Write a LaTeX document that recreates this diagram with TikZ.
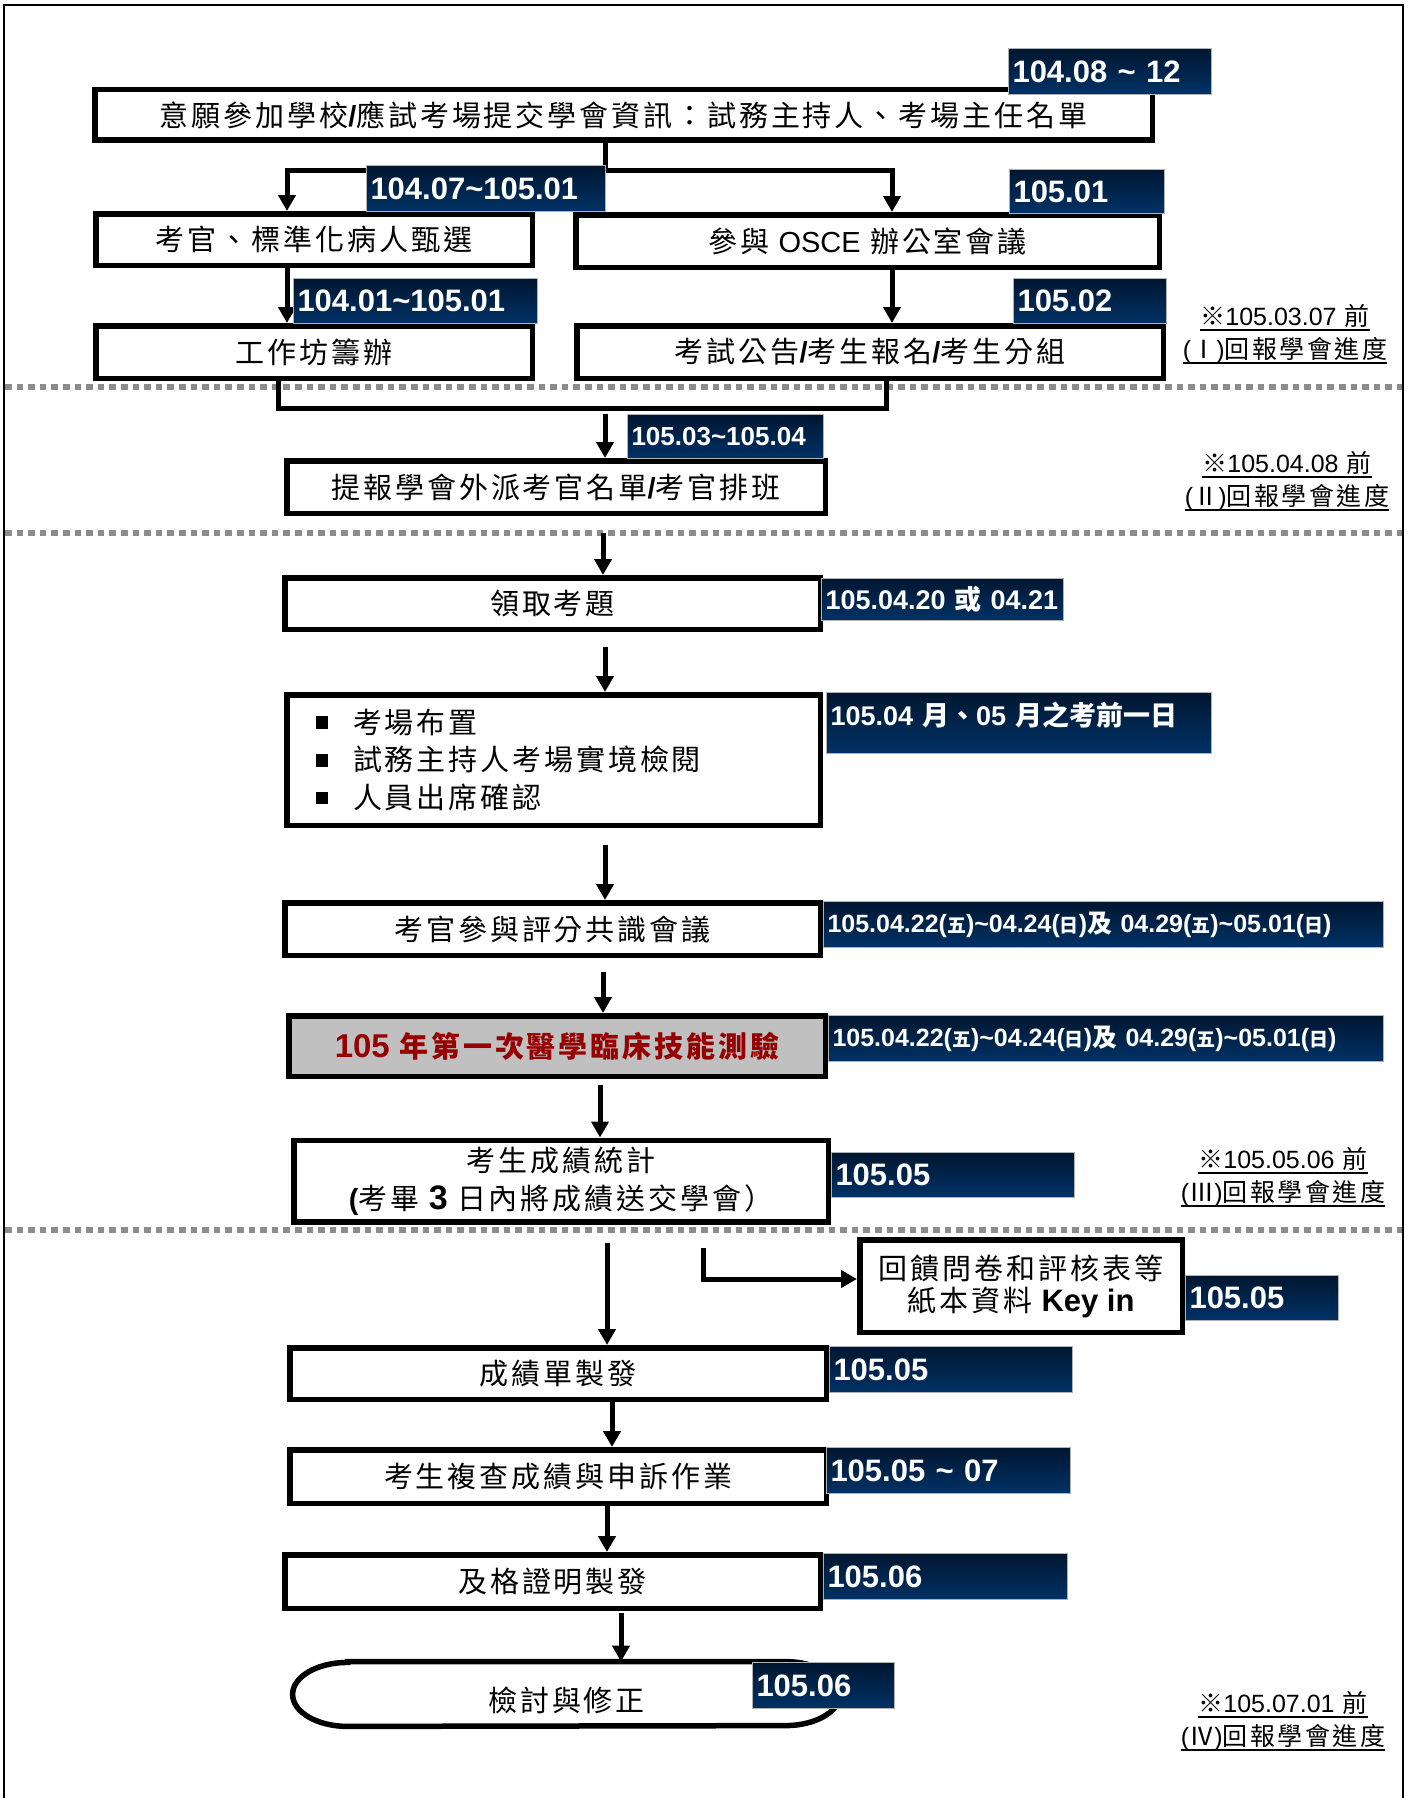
\documentclass[tikz,border=0pt]{standalone}
\usepackage{fontspec}
\setmainfont{Noto Sans CJK TC}
\newfontfamily\cjkfont{Noto Sans CJK TC}
\newfontfamily\spacedfont[LetterSpace=10]{Noto Sans CJK TC}
\newfontfamily\arialfont{Liberation Sans}
\usetikzlibrary{arrows.meta,positioning,calc}

\definecolor{navytop}{RGB}{0,22,48}
\definecolor{navybot}{RGB}{0,50,102}
\definecolor{examred}{RGB}{150,0,0}
\definecolor{boxgray}{RGB}{192,192,192}
\definecolor{sepgray}{RGB}{140,140,140}

\newcommand\lat[1]{{\arialfont #1}}
\newcommand\cj[1]{{\cjkfont #1}}
\newcommand\smcj[1]{{\cjkfont\fontsize{9.5}{10}\selectfont #1}}
\newcommand\bul{\rule[2.2pt]{6pt}{6.3pt}\hspace{12.5pt}}
\newcommand\undl[1]{\setbox0\hbox{#1}\rlap{\rule[-3pt]{\wd0}{0.9pt}}\box0}

\begin{document}
\begin{tikzpicture}[x=0.5pt,y=-0.5pt,>={Triangle[length=8pt,width=8.5pt]},
  stepbox/.style={draw,line width=2.75pt,fill=white,inner sep=0pt,align=center,
    font=\spacedfont\fontsize{14.5}{19}\selectfont},
  datebox/.style={anchor=north west,top color=navytop,bottom color=navybot,
    draw=gray!60,line width=0.5pt,text=white,inner xsep=2pt,inner ysep=0pt,
    align=left,font=\arialfont\bfseries\fontsize{15.5}{18}\selectfont},
  flow/.style={line width=2.5pt},
  sepline/.style={sepgray,line width=3pt,dash pattern=on 3.3pt off 2.5pt},
  note/.style={align=center,font=\spacedfont\fontsize{12.5}{16.5}\selectfont}]
  \useasboundingbox (0,0) rectangle (1408,1798);
  \draw[line width=1.2pt] (4,1798) -- (4,5) -- (1403,5) -- (1403,1798);

  % separators between the reporting stages
  \draw[sepline] (5,387) -- (1402,387);
  \draw[sepline] (5,533) -- (1402,533);
  \draw[sepline] (5,1230) -- (1402,1230);

  % steps
  \node[stepbox,minimum width=528.75pt,minimum height=25.25pt] (b_1) at (623.5,115)
    {意願參加學校\lat{\bfseries/}應試考場提交學會資訊：試務主持人、考場主任名單};
  \node[stepbox,minimum width=218.25pt,minimum height=25.75pt] (b_2) at (314,239.5) {考官、標準化病人甄選};
  \node[stepbox,minimum width=291.75pt,minimum height=26.25pt] (b_3) at (867.5,241) {參與 \lat{OSCE} 辦公室會議};
  \node[stepbox,minimum width=218.25pt,minimum height=26.25pt] (b_4) at (314,352) {工作坊籌辦};
  \node[stepbox,minimum width=293.25pt,minimum height=26.25pt] (b_5) at (870,352)
    {考試公告\lat{\bfseries/}考生報名\lat{\bfseries/}考生分組};
  \node[stepbox,minimum width=269.25pt,minimum height=26.25pt] (b_6) at (556,487)
    {提報學會外派考官名單\lat{\bfseries/}考官排班};
  \node[stepbox,minimum width=267.75pt,minimum height=25.75pt] (b_7) at (552.5,603.5) {領取考題};
  \node[stepbox,minimum width=266.75pt,minimum height=65.25pt,align=left,text width=237.5pt,
    font=\spacedfont\fontsize{14.5}{18.75}\selectfont] (b_8) at (553.5,760)
    {\bul 考場布置\\\bul 試務主持人考場實境檢閱\\\bul 人員出席確認};
  \node[stepbox,minimum width=267.75pt,minimum height=26.25pt] (b_9) at (552.5,929) {考官參與評分共識會議};
  \node[stepbox,minimum width=268.25pt,minimum height=30.25pt,fill=boxgray,text=examred,
    font=\spacedfont\bfseries\fontsize{14.5}{19}\selectfont] (b_10) at (557,1046)
    {\lat{\fontsize{16.5}{19}\selectfont 105} 年第一次醫學臨床技能測驗};
  \node[stepbox,minimum width=267.25pt,minimum height=40.75pt] (b_11) at (561,1181)
    {考生成績統計\\\lat{\bfseries(}考畢 \lat{\bfseries\fontsize{17}{19}\selectfont 3} 日內將成績送交學會）};
  \node[stepbox,minimum width=161.25pt,minimum height=46.25pt,
    font=\spacedfont\fontsize{14.5}{16}\selectfont] (b_12) at (1021,1286)
    {回饋問卷和評核表等\\紙本資料 \lat{\bfseries\fontsize{15.5}{16}\selectfont Key in}};
  \node[stepbox,minimum width=268.25pt,minimum height=25.75pt] (b_13) at (558,1373.5) {成績單製發};
  \node[stepbox,minimum width=268.25pt,minimum height=26.75pt] (b_14) at (558,1476.5) {考生複查成績與申訴作業};
  \node[stepbox,minimum width=267.75pt,minimum height=26.75pt] (b_15) at (552.5,1581.5) {及格證明製發};
  \node[minimum width=273.5pt,minimum height=32pt,inner sep=0pt] (b_16) at (566.5,1694) {};
  \draw[line width=2.75pt,fill=white] ($(b_16.north west)+(55,0)$) -- ($(b_16.north east)+(-55,0)$)
    arc[start angle=90,end angle=-90,x radius=27.5pt,y radius=16pt]
    -- ($(b_16.south west)+(55,0)$)
    arc[start angle=270,end angle=90,x radius=27.5pt,y radius=16pt] -- cycle;
  \node[font=\spacedfont\fontsize{14.5}{19}\selectfont] at ([yshift=-3pt]b_16.center) {檢討與修正};

  % connectors
  \coordinate (j_0) at (605,170);
  \coordinate (j_l) at (287,170);
  \coordinate (j_r) at (892,170);
  \draw[flow] (b_1.south -| j_0) -- (j_0);
  \draw[flow,->] (j_0) -- (j_l) -- (j_l |- b_2.north);
  \draw[flow,->] (j_0) -- (j_r) -- (j_r |- b_3.north);
  \draw[flow,->] (b_2.south -| j_l) -- (b_4.north -| j_l);
  \draw[flow,->] (b_3.south -| j_r) -- (b_5.north -| j_r);
  \coordinate (m_l) at (278,408);
  \coordinate (m_r) at (886,408);
  \draw[flow] (b_4.south -| m_l) -- (m_l) -- (m_r) -- (b_5.south -| m_r);
  \coordinate (m_0) at (605,414);
  \draw[flow,->] (m_0) -- (m_0 |- b_6.north);
  \coordinate (s_2) at (603,533);
  \draw[flow,->] (s_2) -- (s_2 |- b_7.north);
  \coordinate (a_7) at (605,647);
  \draw[flow,->] (a_7) -- (a_7 |- b_8.north);
  \coordinate (a_8) at (605,845);
  \draw[flow,->] (a_8) -- (a_8 |- b_9.north);
  \coordinate (a_9) at (603,972);
  \draw[flow,->] (a_9) -- (a_9 |- b_10.north);
  \coordinate (a_10) at (600,1085);
  \draw[flow,->] (a_10) -- (a_10 |- b_11.north);
  \coordinate (s_3) at (607,1243);
  \draw[flow,->] (s_3) -- (s_3 |- b_13.north);
  \coordinate (k_0) at (703,1248);
  \coordinate (k_1) at (703,1279);
  \draw[flow,->] (k_0) -- (k_1) -- (k_1 -| b_12.west);
  \coordinate (a_13) at (612,1402);
  \draw[flow,->] (a_13) -- (a_13 |- b_14.north);
  \coordinate (a_14) at (607,1506);
  \draw[flow,->] (a_14) -- (a_14 |- b_15.north);
  \coordinate (a_15) at (621,1613);
  \draw[flow,->] (a_15) -- (a_15 |- b_16.north);

  % dates
  \node[datebox,text width=97.5pt,minimum height=23pt] (d_1) at (1008,48) {104.08 \textasciitilde\ 12};
  \node[datebox,text width=115.5pt,minimum height=23pt] (d_2) at (366,165) {104.07\textasciitilde105.01};
  \node[datebox,text width=73.5pt,minimum height=22pt] (d_3) at (1009,169) {105.01};
  \node[datebox,text width=118pt,minimum height=22.5pt] (d_4) at (293,278) {104.01\textasciitilde105.01};
  \node[datebox,text width=72.5pt,minimum height=22.5pt] (d_5) at (1013,278) {105.02};
  \node[datebox,text width=94pt,minimum height=22pt,
    font=\arialfont\bfseries\fontsize{13}{15}\selectfont] (d_6) at (627,414) {105.03\textasciitilde105.04};
  \node[datebox,text width=117pt,minimum height=21pt,
    font=\arialfont\bfseries\fontsize{13.5}{15}\selectfont] (d_7) at (821,578) {105.04.20 \cj{或} 04.21};
  \node[datebox,text width=188.5pt,minimum height=30.5pt,text height=14pt,text depth=11.5pt,
    font=\arialfont\bfseries\fontsize{13.5}{15}\selectfont] (d_8) at (826,692)
    {105.04 \cj{月、}05 \cj{月之考前一日}};
  \node[datebox,text width=276pt,minimum height=23pt,
    font=\arialfont\bfseries\fontsize{12.5}{15}\selectfont] (d_9) at (823,901)
    {105.04.22(\smcj{五})\textasciitilde04.24(\smcj{日})\cj{及} 04.29(\smcj{五})\textasciitilde05.01(\smcj{日})};
  \node[datebox,text width=273.5pt,minimum height=23pt,
    font=\arialfont\bfseries\fontsize{12.5}{15}\selectfont] (d_10) at (828,1015)
    {105.04.22(\smcj{五})\textasciitilde04.24(\smcj{日})\cj{及} 04.29(\smcj{五})\textasciitilde05.01(\smcj{日})};
  \node[datebox,text width=117.5pt,minimum height=22.5pt] (d_11) at (831,1152) {105.05};
  \node[datebox,text width=72.5pt,minimum height=22.5pt] (d_12) at (1185,1275) {105.05};
  \node[datebox,text width=117.5pt,minimum height=23pt] (d_13) at (829,1346) {105.05};
  \node[datebox,text width=118pt,minimum height=23pt] (d_14) at (826,1447) {105.05 \textasciitilde\ 07};
  \node[datebox,text width=118pt,minimum height=23pt] (d_15) at (823,1553) {105.06};
  \node[datebox,text width=67pt,minimum height=23pt] (d_16) at (752,1662) {105.06};

  % reporting deadlines
  \node[note] (n_1) at (1285,334) {\undl{※\lat{105.03.07} 前}\\\undl{\lat{(}Ⅰ\lat{)}回報學會進度}};
  \node[note] (n_2) at (1287,481) {\undl{※\lat{105.04.08} 前}\\\undl{\lat{(}Ⅱ\lat{)}回報學會進度}};
  \node[note] (n_3) at (1283,1177) {\undl{※\lat{105.05.06} 前}\\\undl{\lat{(}Ⅲ\lat{)}回報學會進度}};
  \node[note] (n_4) at (1283,1721) {\undl{※\lat{105.07.01} 前}\\\undl{\lat{(}Ⅳ\lat{)}回報學會進度}};
\end{tikzpicture}
\end{document}
